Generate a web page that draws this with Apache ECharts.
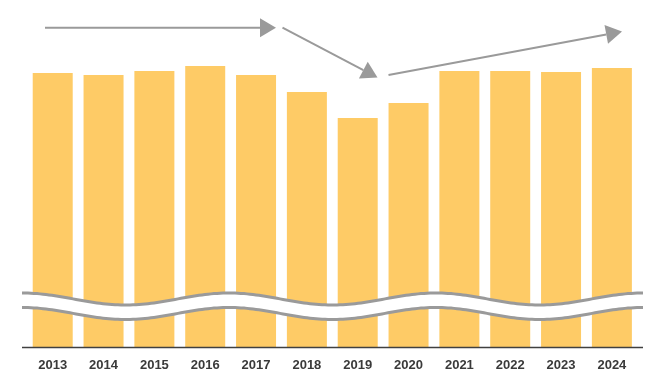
<!DOCTYPE html>
<html><head><meta charset="utf-8">
<script src="https://cdn.jsdelivr.net/npm/echarts@6/dist/echarts.min.js"></script>
<style>html,body{margin:0;padding:0;background:#fff}#c{width:660px;height:380px}</style>
</head><body><div id="c"></div>
<script>
const categories = ['2013','2014','2015','2016','2017','2018','2019','2020','2021','2022','2023','2024'];
const values = [274, 272, 276, 281, 272, 255, 229, 244, 276, 276, 275, 279];

const chart = echarts.init(document.getElementById('c'), null, {renderer: 'canvas'});

// decorative axis-break wave
function wave(offset) {
  const pts = [];
  for (let x = 22; x <= 643; x += 3) {
    pts.push([x, 299 + offset - 6 * Math.cos(2 * Math.PI * (x - 22) / 207)]);
  }
  return pts;
}
const up = wave(0), lo = wave(14.5);
const band = up.concat(lo.slice().reverse());

function arrow(x1, y1, x2, y2) {
  const ang = Math.atan2(y2 - y1, x2 - x1);
  const L = 16, W = 9.5;
  const bx = x2 - L * Math.cos(ang), by = y2 - L * Math.sin(ang);
  const nx = -Math.sin(ang), ny = Math.cos(ang);
  return [
    {type: 'line', z: 100, shape: {x1, y1, x2: bx, y2: by}, style: {stroke: '#9a9a9a', lineWidth: 2}},
    {type: 'polygon', z: 100, shape: {points: [[x2, y2], [bx + nx * W, by + ny * W], [bx - nx * W, by - ny * W]]}, style: {fill: '#9a9a9a'}}
  ];
}

chart.setOption({
  animation: false,
  grid: {left: 27.3, right: 22.7, top: 47, bottom: 33},
  xAxis: {
    type: 'category', data: categories,
    axisLine: {show: false}, axisTick: {show: false},
    axisLabel: {color: '#3a3a3a', fontSize: 13, fontWeight: 'bold', fontFamily: 'Liberation Sans, Arial, sans-serif', margin: 12}
  },
  yAxis: {type: 'value', min: 0, max: 300, show: false, splitLine: {show: false}},
  series: [{
    type: 'bar', data: values, barWidth: 40,
    itemStyle: {color: '#FECB66'}
  }],
  graphic: [
    {type: 'polygon', z: 100, shape: {points: band}, style: {fill: '#ffffff'}},
    {type: 'polyline', z: 101, shape: {points: up}, style: {stroke: '#9a9a9a', lineWidth: 3, fill: null}},
    {type: 'polyline', z: 101, shape: {points: lo}, style: {stroke: '#9a9a9a', lineWidth: 3, fill: null}},
    {type: 'line', z: 100, shape: {x1: 22, y1: 347.5, x2: 643, y2: 347.5}, style: {stroke: '#404040', lineWidth: 1.5}},
    ...arrow(45, 27.7, 276, 27.7),
    ...arrow(282.5, 27.7, 377.5, 77.5),
    ...arrow(388.5, 75, 622, 31.5)
  ]
});
</script></body></html>
